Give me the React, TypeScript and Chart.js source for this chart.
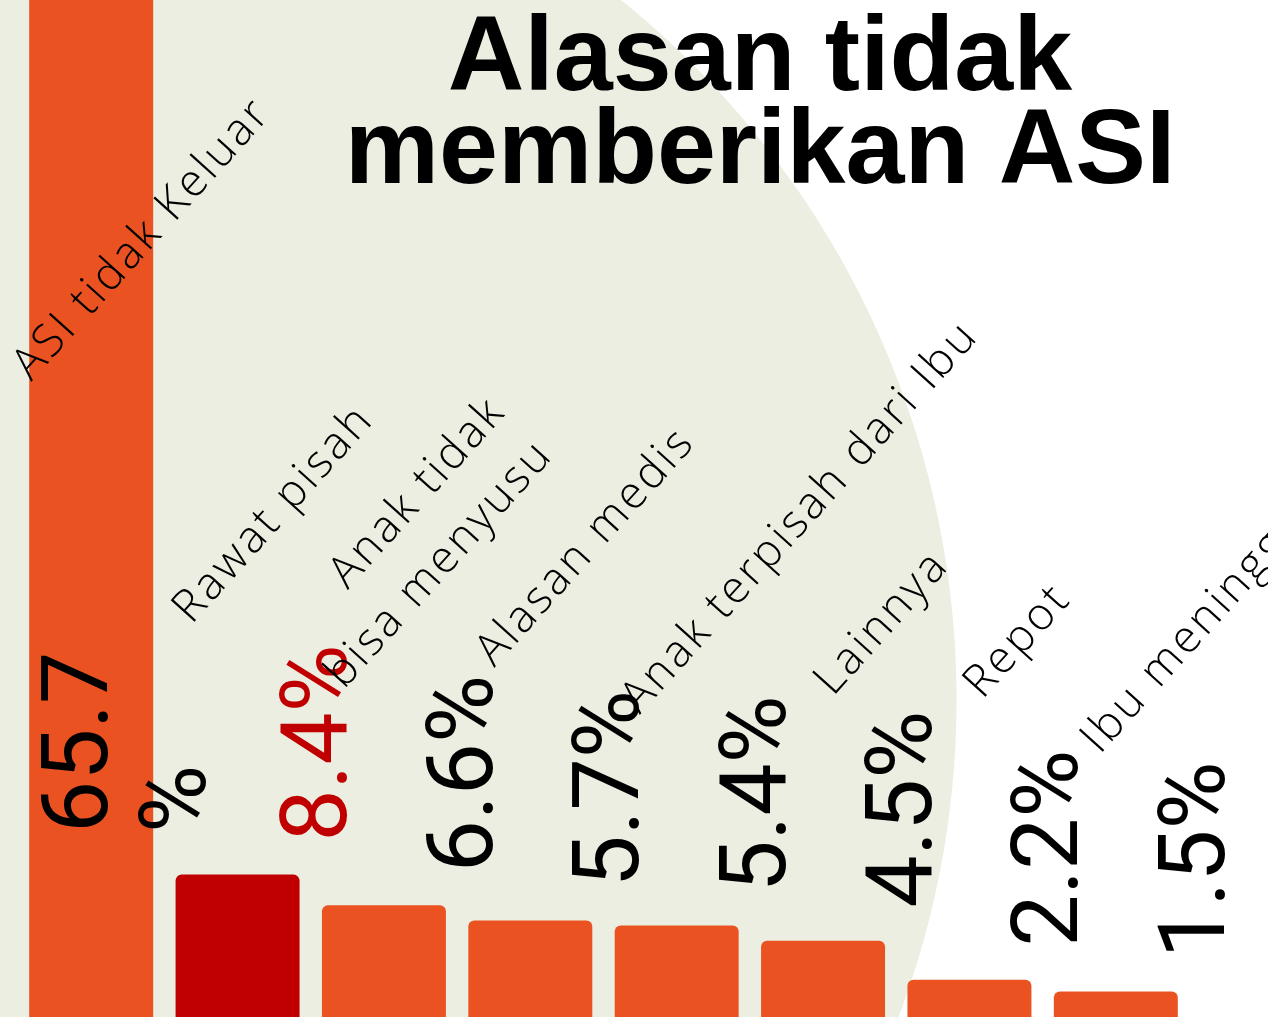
import React, { useEffect, useRef } from "react";
import { Chart, registerables } from "chart.js";

Chart.register(...registerables);

// ---- data ----
const categories = [
  "ASI tidak Keluar",
  "Rawat pisah",
  "Anak tidak\nbisa menyusu",
  "Alasan medis",
  "Anak terpisah dari Ibu",
  "Lainnya",
  "Repot",
  "Ibu meninggal",
];
const values = [65.7, 8.4, 6.6, 5.7, 5.4, 4.5, 2.2, 1.5];
const highlightIndex = 1;
const titleLines = ["Alasan tidak", "memberikan ASI"];
const yMax = 60;

// ---- layout / style (not data) ----
const ORANGE = "#EA5321";
const RED = "#C00000";
const BEIGE = "#ECEEE1";
const LABEL_ANGLE = (48 * Math.PI) / 180;
// start of (last line of) each category label, relative to bar centre / chart bottom
const LABEL_NUDGE: number[][] = [
  [-60, -635],
  [-46, -392],
  [-40, -327],
  [-36, -349],
  [-37, -302],
  [10, -320],
  [13, -317],
  [-16, -262],
];

const decorPlugin = {
  id: "decor",
  beforeDraw(chart: any) {
    const { ctx, width, height } = chart;
    ctx.save();
    ctx.fillStyle = "#FFFFFF";
    ctx.fillRect(0, 0, width, height);
    ctx.fillStyle = BEIGE;
    ctx.beginPath();
    ctx.arc(width * 0.047, height * 0.688, height * 0.882, 0, Math.PI * 2);
    ctx.fill();
    ctx.restore();
  },
  afterDatasetsDraw(chart: any) {
    const { ctx, chartArea } = chart;
    const meta = chart.getDatasetMeta(0);
    const yScale = chart.scales.y;
    meta.data.forEach((bar: any, i: number) => {
      const v = values[i];
      // value label
      ctx.save();
      ctx.fillStyle = i === highlightIndex ? RED : "#000000";
      ctx.font = "400 93px Roboto";
      ctx.textAlign = "left";
      ctx.textBaseline = "alphabetic";
      if (v > yScale.max) {
        ctx.translate(bar.x + 16, chartArea.bottom - 184);
        ctx.rotate(-Math.PI / 2);
        ctx.fillText(String(v), 0, 0);
        ctx.fillText("%", 0, 98);
      } else {
        ctx.translate(bar.x + 108, bar.y - 33);
        ctx.rotate(-Math.PI / 2);
        ctx.fillText(v + "%", 0, 0);
      }
      ctx.restore();

      // category label
      const lines = categories[i].split("\n");
      const [dx, dy] = LABEL_NUDGE[i];
      ctx.save();
      ctx.fillStyle = "#000000";
      ctx.font = "300 45px 'Open Sans'";
      (ctx as any).letterSpacing = "3px";
      ctx.textBaseline = "alphabetic";
      ctx.translate(bar.x + dx, chartArea.bottom + dy);
      ctx.rotate(-LABEL_ANGLE);
      const last = lines[lines.length - 1];
      const wLast = ctx.measureText(last).width;
      ctx.textAlign = "right";
      lines.forEach((ln: string, k: number) => {
        const off = (lines.length - 1 - k) * 64;
        ctx.fillText(ln, wLast, -off);
      });
      ctx.restore();
    });
  },
  afterDraw(chart: any) {
    const { ctx, width } = chart;
    ctx.save();
    ctx.fillStyle = "#000000";
    ctx.font = "bold 106px 'Liberation Sans', Arial, sans-serif";
    ctx.textAlign = "center";
    ctx.textBaseline = "alphabetic";
    const cx = width * 0.5994;
    titleLines.forEach((t, k) => ctx.fillText(t, cx, 90 + k * 93));
    ctx.restore();
  },
};

export default function App() {
  const ref = useRef<HTMLCanvasElement | null>(null);
  useEffect(() => {
    if (!ref.current) return;
    const chart = new Chart(ref.current, {
      type: "bar",
      data: {
        labels: categories,
        datasets: [
          {
            data: values,
            backgroundColor: values.map((_, i) => (i === highlightIndex ? RED : ORANGE)),
            borderRadius: 6,
            borderSkipped: "start",
            barPercentage: 0.847,
            categoryPercentage: 1,
          },
        ],
      },
      options: {
        animation: false,
        responsive: true,
        maintainAspectRatio: false,
        events: [],
        layout: { padding: { left: 18, right: 79, top: 0, bottom: 0 } },
        plugins: {
          legend: { display: false },
          tooltip: { enabled: false },
          title: { display: false },
        },
        scales: {
          x: { display: false, offset: true, grid: { display: false } },
          y: { display: false, min: 0, max: yMax, grid: { display: false } },
        },
      },
      plugins: [decorPlugin],
    });
    return () => chart.destroy();
  }, []);
  return (
    <div style={{ position: "fixed", left: 0, top: 0, width: "100vw", height: "100vh" }}>
      <canvas ref={ref} />
    </div>
  );
}
